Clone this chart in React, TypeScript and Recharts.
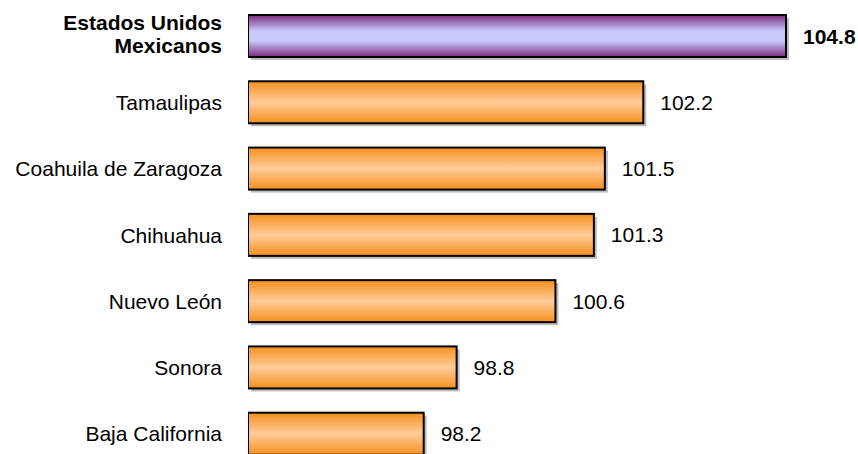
import { BarChart, Bar, XAxis, YAxis, Cell, LabelList } from 'recharts';

const states = [
  'Estados Unidos Mexicanos',
  'Tamaulipas',
  'Coahuila de Zaragoza',
  'Chihuahua',
  'Nuevo León',
  'Sonora',
  'Baja California',
];
const values = [104.8, 102.2, 101.5, 101.3, 100.6, 98.8, 98.2];

const data = states.map((name, i) => ({ name, value: values[i] }));

const FONT = '"Liberation Sans", Arial, sans-serif';
const NATIONAL = states[0];

function BarShape(props: any) {
  const { x, y, width, height, fill } = props;
  if (width <= 0) return null;
  return (
    <g>
      <rect x={x + 3} y={y + 3} width={width} height={height} fill="#bdbdbd" />
      <rect x={x} y={y} width={width} height={height} fill={fill} stroke="#000" strokeWidth={2} />
    </g>
  );
}

function StateTick({ x, y, payload }: any) {
  if (payload.value === NATIONAL) {
    return (
      <text x={x} y={y} textAnchor="end" fontFamily={FONT} fontSize={21} fontWeight="bold" fill="#000">
        <tspan x={x} dy={-6}>Estados Unidos</tspan>
        <tspan x={x} dy={23}>Mexicanos</tspan>
      </text>
    );
  }
  return (
    <text x={x} y={y} dy="0.36em" textAnchor="end" fontFamily={FONT} fontSize={21} fill="#000">
      {payload.value}
    </text>
  );
}

function ValueLabel({ x, y, width, height, value, index }: any) {
  return (
    <text
      x={x + width + 17}
      y={y + height / 2}
      dy="0.36em"
      fontFamily={FONT}
      fontSize={21}
      fontWeight={index === 0 ? 'bold' : 'normal'}
      fill="#000"
    >
      {Number(value).toFixed(1)}
    </text>
  );
}

export default function App() {
  return (
    <div style={{ position: 'absolute', left: 0, top: 0, width: 858, height: 454, overflow: 'hidden', background: '#fff' }}>
      <BarChart
        width={858}
        height={470}
        data={data}
        layout="vertical"
        margin={{ top: 3, right: 61, bottom: 3, left: 0 }}
      >
        <defs>
          <linearGradient id="gradOrange" x1="0" y1="0" x2="0" y2="1">
            <stop offset="0%" stopColor="#F7901E" />
            <stop offset="50%" stopColor="#FFCC99" />
            <stop offset="100%" stopColor="#F7901E" />
          </linearGradient>
          <linearGradient id="gradPurple" x1="0" y1="0" x2="0" y2="1">
            <stop offset="0%" stopColor="#7A2A80" />
            <stop offset="38%" stopColor="#C8C8FA" />
            <stop offset="62%" stopColor="#C8C8FA" />
            <stop offset="100%" stopColor="#7A2A80" />
          </linearGradient>
        </defs>
        <XAxis type="number" domain={[95, 105]} allowDataOverflow hide />
        <YAxis
          type="category"
          dataKey="name"
          width={248}
          axisLine={false}
          tickLine={false}
          tickMargin={20}
          interval={0}
          tick={<StateTick />}
        />
        <Bar dataKey="value" barSize={42} isAnimationActive={false} shape={<BarShape />}>
          {data.map((d, i) => (
            <Cell key={d.name} fill={i === 0 ? 'url(#gradPurple)' : 'url(#gradOrange)'} />
          ))}
          <LabelList dataKey="value" content={<ValueLabel />} />
        </Bar>
      </BarChart>
    </div>
  );
}
